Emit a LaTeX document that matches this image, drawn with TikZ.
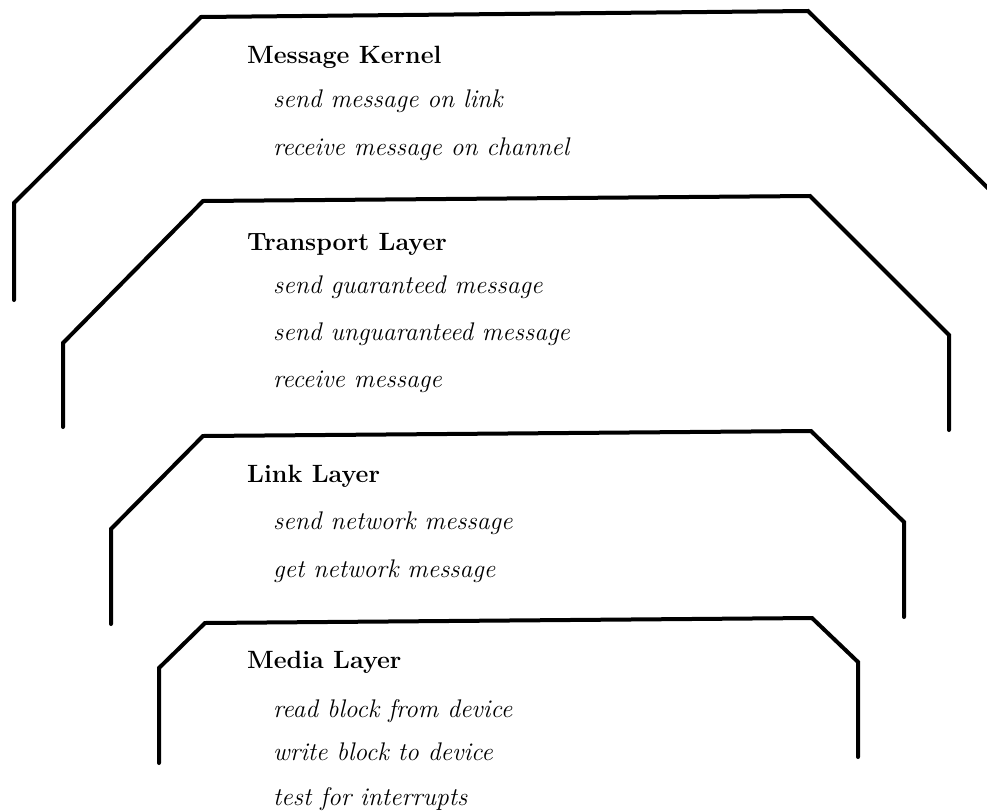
\documentclass[tikz,border=0pt]{standalone}
\begin{document}
\begin{tikzpicture}[x=1pt,y=-1pt,
  layer/.style={line width=4pt,line cap=round,line join=miter},
  head/.style={anchor=base west,inner sep=0pt,font=\fontsize{25}{29}\selectfont\bfseries},
  item/.style={anchor=base west,inner sep=0pt,font=\fontsize{25.5}{29}\selectfont\itshape}]
\useasboundingbox (0,0) rectangle (987,811);
\clip (0,0) rectangle (987,811);
% outlines
\draw[layer] (14,300) -- (14,203) -- (201,17) -- (808,11) -- (1000,200);
\draw[layer] (63,427) -- (63,343) -- (203,201) -- (810,196) -- (949,335) -- (949,430);
\draw[layer] (111,624) -- (111,529) -- (203,436) -- (811,431) -- (904,522) -- (904,617);
\draw[layer] (159,763) -- (159,668) -- (205,623) -- (812,618) -- (858,662) -- (858,757);
% texts
\node[head] (mk) at (247,63) {Message Kernel};
\node[item] (mk1) at (273,107) {send message on link};
\node[item] (mk2) at (273,155) {receive message on channel};
\node[head] (tl) at (247,250) {Transport Layer};
\node[item] (tl1) at (273,293) {send guaranteed message};
\node[item] (tl2) at (273,340) {send unguaranteed message};
\node[item] (tl3) at (273,387) {receive message};
\node[head] (ll) at (247,482) {Link Layer};
\node[item] (ll1) at (273,529) {send network message};
\node[item] (ll2) at (273,577) {get network message};
\node[head] (ml) at (247,668) {Media Layer};
\node[item] (ml1) at (273,717) {read block from device};
\node[item] (ml2) at (273,760) {write block to device};
\node[item] (ml3) at (273,805) {test for interrupts};
\end{tikzpicture}
\end{document}
